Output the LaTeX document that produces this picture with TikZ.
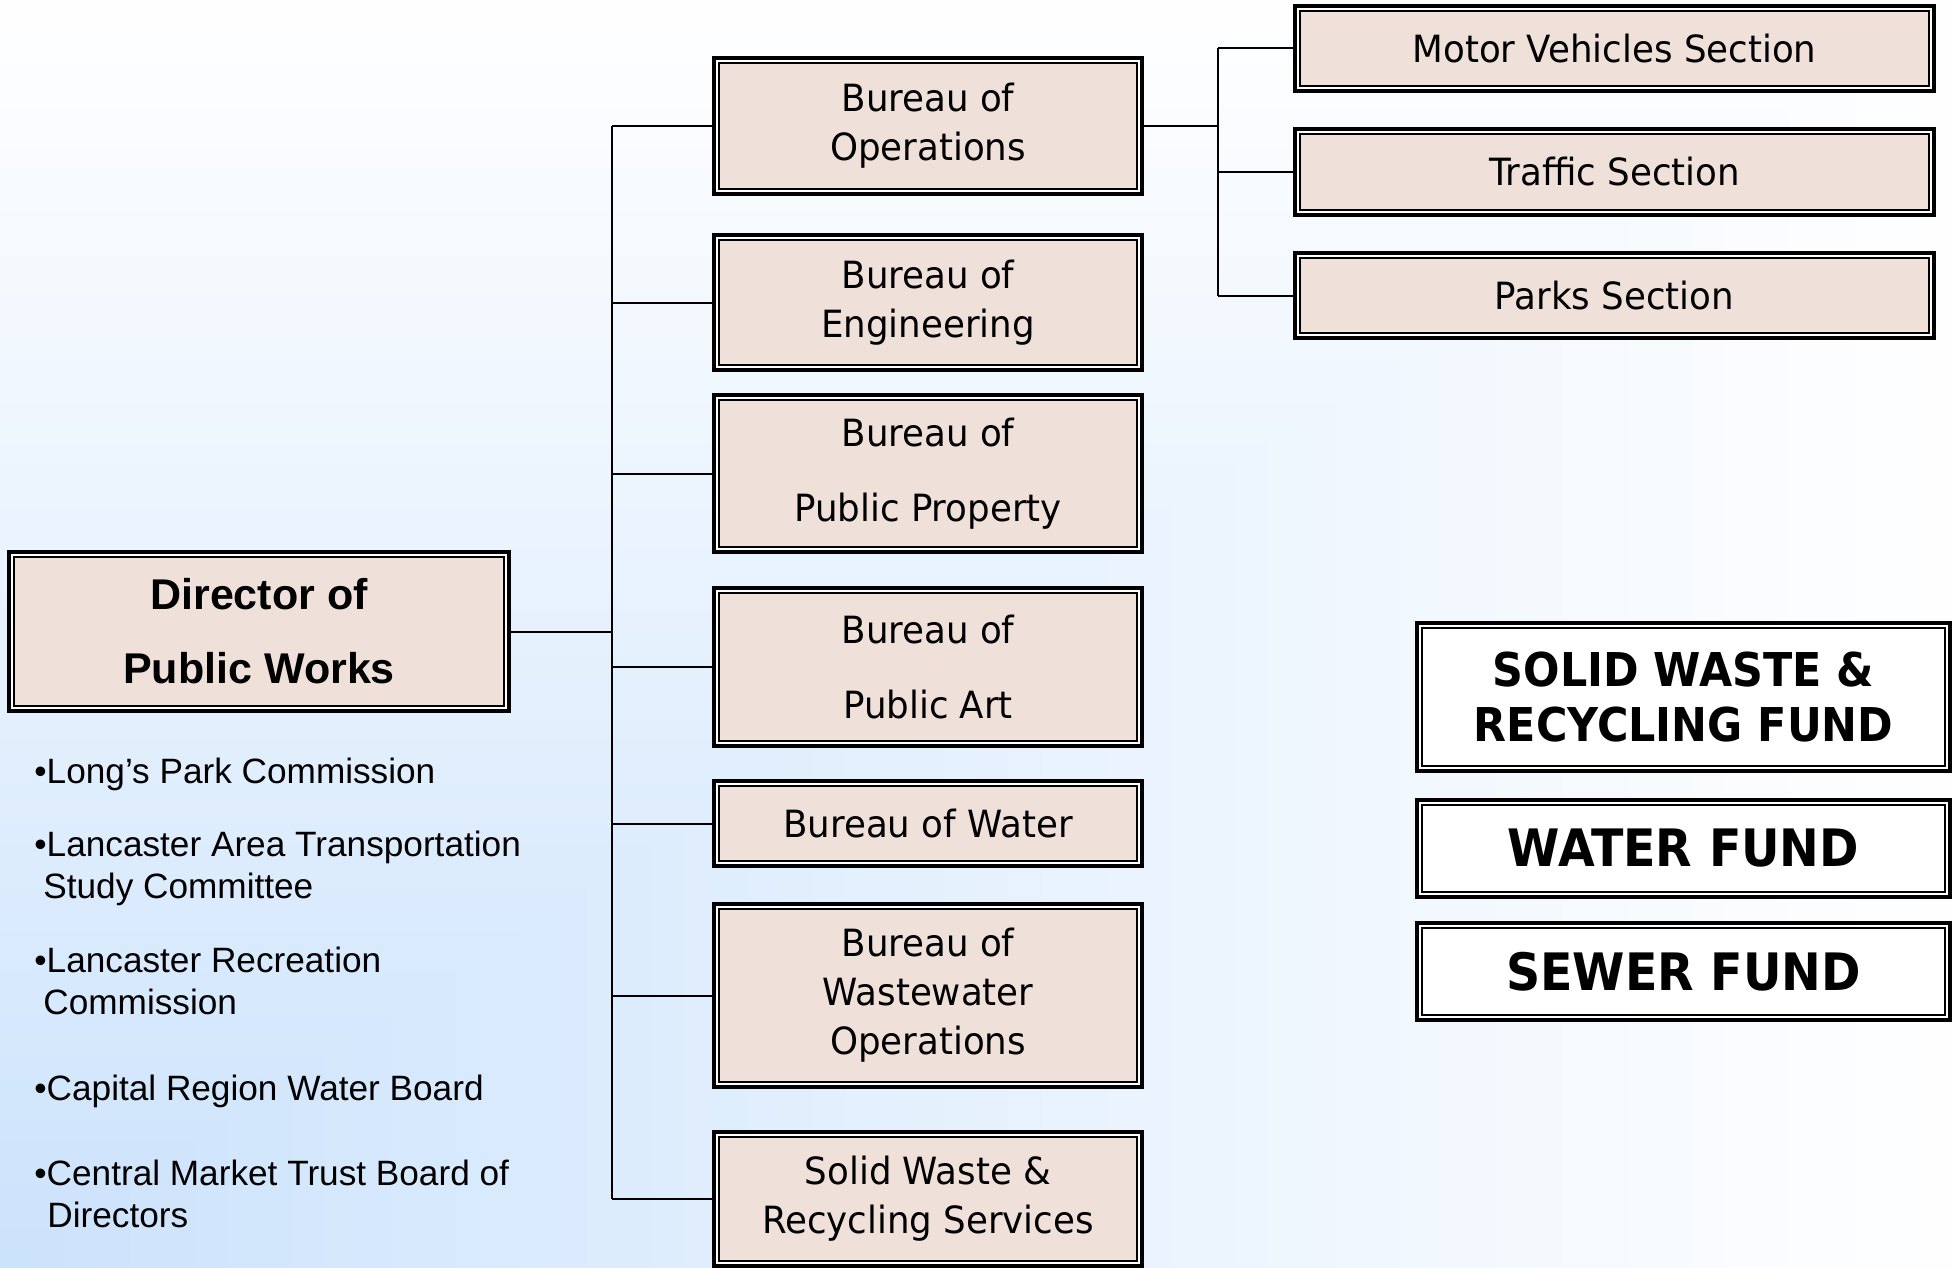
\documentclass[tikz,border=0pt]{standalone}
\usepackage{fontspec}
\newfontfamily\tah[FakeStretch=0.95]{DejaVu Sans}
\newfontfamily\tahB[FakeStretch=0.92]{DejaVu Sans}
\newfontfamily\ari{Liberation Sans}
\definecolor{bgblue}{HTML}{CCE3FC}
\definecolor{boxfill}{HTML}{EFE1DA}
\tikzset{
  dbl/.style={draw=black, line width=2pt, inner sep=0pt, outer sep=0pt, align=center,
    path picture={
      \draw[white, line width=3.8pt] (path picture bounding box.south west) rectangle (path picture bounding box.north east);
      \draw[black, line width=2pt] (path picture bounding box.south west) rectangle (path picture bounding box.north east);
      \draw[black, line width=1.1pt] ([shift={(2.45pt,2.45pt)}]path picture bounding box.south west) rectangle ([shift={(-2.45pt,-2.45pt)}]path picture bounding box.north east);
    }},
  bureau/.style={dbl, fill=boxfill, minimum width=214pt, font=\tah\fontsize{18.75pt}{24.5pt}\selectfont},
  bureauwide/.style={dbl, fill=boxfill, minimum width=214pt, font=\tah\fontsize{18.75pt}{37.5pt}\selectfont},
  section/.style={dbl, fill=boxfill, minimum width=319.5pt, minimum height=42.5pt, font=\tah\fontsize{18.75pt}{24.5pt}\selectfont},
  director/.style={dbl, fill=boxfill, minimum width=250pt, minimum height=79.5pt, font=\ari\bfseries\fontsize{21.5pt}{37pt}\selectfont},
  fund/.style={dbl, fill=white, minimum width=266.5pt, font=\tahB\bfseries\fontsize{25.8pt}{27.5pt}\selectfont},
  fundsmall/.style={dbl, fill=white, minimum width=266.5pt, font=\tahB\bfseries\fontsize{23.3pt}{27.5pt}\selectfont},
  bullet/.style={anchor=base west, inner sep=0pt, font=\ari\fontsize{17.6pt}{20.5pt}\selectfont},
  conn/.style={draw=black, line width=1pt}
}
\begin{document}
\begin{tikzpicture}[x=0.5pt, y=-0.5pt]
\useasboundingbox (0,0) rectangle (1953,1268);
% background: corner gradient from bottom-left
\fill[white] (0,0) rectangle (1953,1268);
\foreach \i in {1,...,60}{
  \pgfmathsetmacro\bgs{1-(\i-1)/60}
  \pgfmathsetmacro\bgp{100*(\i/60)^1.05}
  \fill[bgblue!\bgp!white] (0,1268) rectangle ({\bgs*1953},{1268*(1-\bgs)});
}

% director
\node[director] (dir) at (259,631.5) {Director of\\Public Works};

% bureaus
\node[bureau, minimum height=67.75pt] (ops) at (928,126) {Bureau of\\Operations};
\node[bureau, minimum height=67.5pt] (eng) at (928,302.5) {Bureau of\\Engineering};
\node[bureauwide, minimum height=78.5pt] (pp) at (928,473.5) {Bureau of\\Public Property};
\node[bureauwide, minimum height=79pt] (pa) at (928,667) {Bureau of\\Public Art};
\node[bureau, minimum height=42.5pt] (wat) at (928,823.5) {Bureau of Water};
\node[bureau, minimum height=91.5pt] (ww) at (928,995.5) {Bureau of\\Wastewater\\Operations};
\node[bureau, minimum height=67pt] (sw) at (928,1199) {Solid Waste \&\\Recycling Services};

% sections
\node[section] (mv) at (1614.5,48.5) {Motor Vehicles Section};
\node[section] (traffic) at (1614.5,172) {Traffic Section};
\node[section] (parks) at (1614.5,295.5) {Parks Section};

% funds
\node[fundsmall, minimum height=74pt] (swf) at (1683.5,697) {SOLID WASTE \&\\RECYCLING FUND};
\node[fund, minimum height=48.5pt] (wf) at (1683.5,848.5) {WATER FUND};
\node[fund, minimum height=48.5pt] (sf) at (1683.5,971.5) {SEWER FUND};

% connectors
\coordinate (trunk) at (611.5,631.5);
\coordinate (branch) at (1218,126);
\draw[conn] (dir.east) -- (trunk);
\draw[conn] (ops.west -| trunk) -- (sw.west -| trunk);
\foreach \b in {ops,eng,pp,pa,wat,ww,sw}{
  \draw[conn] (\b.west) -- (\b.west -| trunk);
}
\draw[conn] (ops.east) -- (branch);
\draw[conn] (mv.west -| branch) -- (parks.west -| branch);
\foreach \s in {mv,traffic,parks}{
  \draw[conn] (\s.west) -- (\s.west -| branch);
}

% bullet list
\node[bullet] (b1) at (34,783) {•Long’s Park Commission};
\node[bullet] (b2) at (34,856) {•Lancaster Area Transportation};
\node[bullet] (b2b) at (43,898) {Study Committee};
\node[bullet] (b3) at (34,972) {•Lancaster Recreation};
\node[bullet] (b3b) at (43,1014) {Commission};
\node[bullet] (b4) at (34,1100) {•Capital Region Water Board};
\node[bullet] (b5) at (34,1185) {•Central Market Trust Board of};
\node[bullet] (b5b) at (47,1227) {Directors};
\end{tikzpicture}
\end{document}
